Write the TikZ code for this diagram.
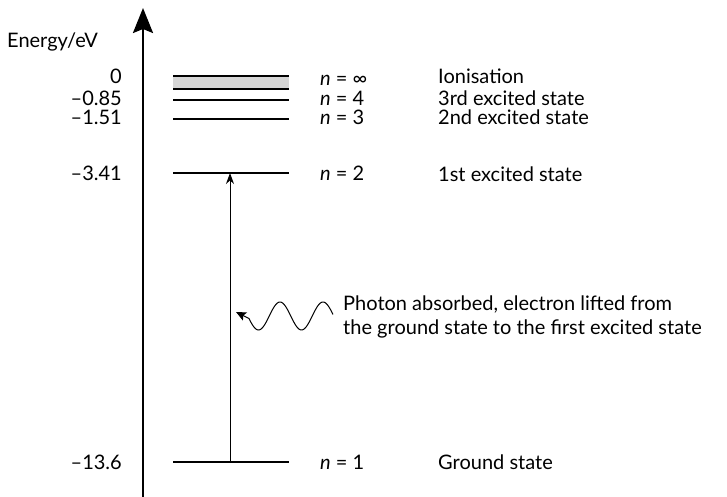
\documentclass[tikz,border=0pt]{standalone}
\usepackage{fontspec}
\setmainfont{Lato}
\usetikzlibrary{arrows.meta}

\tikzset{
  level/.style={line width=1.3pt},
  txt/.style={inner sep=0pt, font=\fontsize{20}{24}\selectfont},
  val/.style={txt, anchor=base east},
  qn/.style={txt, anchor=base west},
  statelbl/.style={txt, anchor=base west},
}

\begin{document}
\begin{tikzpicture}[x=1pt,y=-1pt]
\useasboundingbox (0,0) rectangle (727,497);

% energy axis
\draw[line width=2.4pt,-{Stealth[length=25pt,width=20pt,inset=4pt]}] (143,497) -- (143,8);
\node[txt, anchor=base west] (axis) at (7,48) {Energy/eV};

% levels
\fill[black!16] (173,76) rectangle (289,89);
\draw[level] (173,76) -- (289,76);
\draw[line width=2pt] (173,89) -- (289,89);
\coordinate (l4) at (173,100);
\coordinate (l3) at (173,119);
\coordinate (l2) at (173,173);
\coordinate (l1) at (173,462);
\draw[level] (l4) -- ++(116,0);
\draw[level] (l3) -- ++(116,0);
\draw[level] (l2) -- ++(116,0);
\draw[level] (l1) -- ++(116,0);

% energies
\node[val] (v0) at (122,84) {0};
\node[val] (v4) at (122,106) {--0.85};
\node[val] (v3) at (122,125) {--1.51};
\node[val] (v2) at (122,180) {--3.41};
\node[val] (v1) at (122,469) {--13.6};

% quantum numbers
\node[qn] (n0) at (320,86) {\textit{n} = ∞};
\node[qn] (n4) at (320,106) {\textit{n} = 4};
\node[qn] (n3) at (320,125) {\textit{n} = 3};
\node[qn] (n2) at (320,180) {\textit{n} = 2};
\node[qn] (n1) at (320,469) {\textit{n} = 1};

% states
\node[statelbl] (s0) at (438,84) {Ionisation};
\node[statelbl] (s4) at (438,106) {3rd excited state};
\node[statelbl] (s3) at (438,125) {2nd excited state};
\node[statelbl] (s2) at (438,181) {1st excited state};
\node[statelbl] (s1) at (438,469) {Ground state};

% absorption
\coordinate (jump) at (230,0);
\coordinate (hit) at (236,312);
\draw[line width=1pt,-{Stealth[length=11pt,width=8pt]}] (jump |- l1) -- (jump |- l2);
\draw[line width=1pt,-{Stealth[length=10pt,width=9pt,inset=2pt]}]
  plot[domain=333:249, samples=80] (\x, {316-14*cos((\x-323)/43*360)}) -- (hit);
\node[txt, anchor=west, align=left] (photon) at (343,317)
  {Photon absorbed, electron lifted from\\the ground state to the first excited state};
\end{tikzpicture}
\end{document}
